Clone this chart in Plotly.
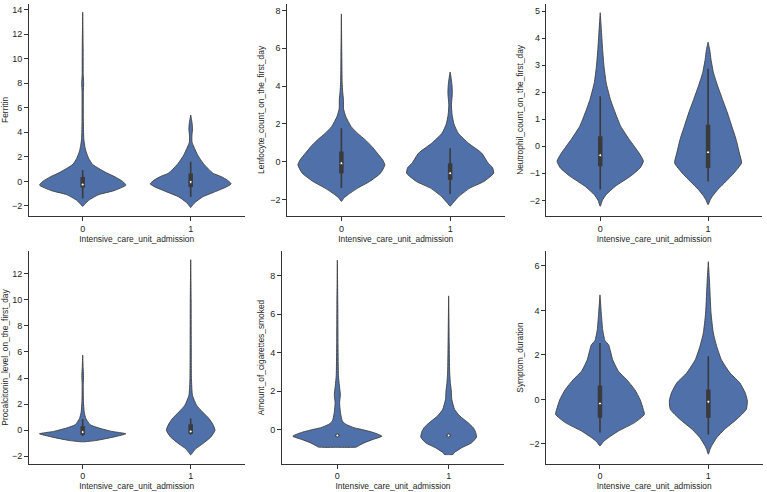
import plotly.graph_objects as go

# ---------------- data ----------------
CATEGORIES = [0, 1]
CATEGORY_LABELS = ["0", "1"]
X_TITLE = "Intensive_care_unit_admission"
Y_TITLES = [
    "Ferritin",
    "Lenfocyte_count_on_the_first_day",
    "Neutrophil_count_on_the_first_day",
    "Procalcitonin_level_on_the_first_day",
    "Amount_of_cigarettes_smoked",
    "Symptom_duration",
]

# violin outlines: value levels (Y) and half-widths in category units (W)
FERRITIN_0_Y = [-2.03, -1.85, -1.53, -1.07, -0.75, -0.30, 0.0, 0.37, 0.7, 1.05, 1.4, 1.87, 2.4, 2.83, 3.5, 5.0, 7.3, 8.0, 8.7, 11.0, 13.78]
FERRITIN_0_W = [0, 0.02, 0.056, 0.15, 0.29, 0.40, 0.37, 0.30, 0.22, 0.15, 0.09, 0.056, 0.032, 0.02, 0.01, 0.006, 0.006, 0.009, 0.005, 0.004, 0]
FERRITIN_1_Y = [-2.13, -1.9, -1.67, -1.26, -0.86, -0.45, -0.2, 0.1, 0.4, 0.65, 1.0, 1.46, 2.14, 2.8, 3.2, 3.7, 4.3, 4.8, 5.41]
FERRITIN_1_W = [0, 0.02, 0.046, 0.11, 0.22, 0.33, 0.375, 0.34, 0.28, 0.21, 0.165, 0.117, 0.065, 0.03, 0.012, 0.011, 0.017, 0.012, 0]

LENFO_0_Y = [-2.09, -1.9, -1.74, -1.39, -1.04, -0.6, -0.16, 0.1, 0.46, 0.81, 1.16, 1.5, 1.86, 2.4, 2.8, 3.3, 3.7, 4.2, 5.5, 7.82]
LENFO_0_W = [0, 0.025, 0.06, 0.15, 0.26, 0.36, 0.40, 0.38, 0.33, 0.28, 0.22, 0.15, 0.09, 0.04, 0.02, 0.019, 0.012, 0.007, 0.004, 0]
LENFO_1_Y = [-2.35, -2.18, -1.83, -1.39, -1.04, -0.6, -0.3, -0.07, 0.46, 0.98, 1.51, 2.0, 2.5, 3.0, 3.6, 4.0, 4.4, 4.75]
LENFO_1_W = [0, 0.025, 0.08, 0.18, 0.31, 0.40, 0.39, 0.35, 0.29, 0.17, 0.075, 0.035, 0.018, 0.012, 0.02, 0.018, 0.01, 0]

NEUTRO_0_Y = [-2.22, -2.0, -1.79, -1.48, -1.11, -0.8, -0.55, -0.25, 0.25, 0.74, 1.23, 1.73, 2.35, 2.96, 3.58, 4.2, 4.94]
NEUTRO_0_W = [0, 0.02, 0.055, 0.14, 0.28, 0.37, 0.40, 0.36, 0.27, 0.19, 0.14, 0.095, 0.055, 0.035, 0.022, 0.012, 0]
NEUTRO_1_Y = [-2.16, -1.98, -1.85, -1.6, -1.3, -0.99, -0.62, -0.25, 0.25, 0.74, 1.23, 1.73, 2.22, 2.72, 3.21, 3.58, 3.85]
NEUTRO_1_W = [0, 0.02, 0.04, 0.09, 0.165, 0.24, 0.31, 0.29, 0.26, 0.22, 0.18, 0.134, 0.09, 0.05, 0.027, 0.015, 0]

PROCAL_0_Y = [-0.9, -0.8, -0.66, -0.5, -0.28, -0.1, 0.16, 0.41, 0.88, 1.4, 2.2, 3.5, 4.2, 4.8, 5.76]
PROCAL_0_W = [0, 0.12, 0.21, 0.30, 0.40, 0.27, 0.15, 0.07, 0.03, 0.014, 0.007, 0.005, 0.008, 0.004, 0]
PROCAL_1_Y = [-1.9, -1.7, -1.43, -1.05, -0.54, -0.02, 0.37, 0.88, 1.39, 1.9, 2.68, 3.96, 7.0, 10.0, 13.08]
PROCAL_1_W = [0, 0.02, 0.046, 0.11, 0.185, 0.225, 0.21, 0.17, 0.11, 0.055, 0.016, 0.007, 0.005, 0.004, 0]

CIGS_0_Y = [-0.93, -0.92, -0.85, -0.7, -0.52, -0.35, -0.17, 0.0, 0.09, 0.26, 0.43, 0.87, 1.39, 1.8, 2.3, 2.8, 4.35, 6.5, 8.83]
CIGS_0_W = [0, 0.17, 0.19, 0.24, 0.32, 0.40, 0.33, 0.22, 0.15, 0.08, 0.045, 0.028, 0.02, 0.027, 0.018, 0.01, 0.006, 0.004, 0]
CIGS_1_Y = [-1.31, -1.3, -1.2, -1.13, -0.96, -0.7, -0.4, -0.1, 0.1, 0.35, 0.7, 1.04, 1.57, 2.0, 2.4, 3.0, 4.5, 6.96]
CIGS_1_W = [0, 0.04, 0.05, 0.07, 0.115, 0.205, 0.25, 0.24, 0.22, 0.175, 0.1, 0.054, 0.028, 0.024, 0.016, 0.009, 0.005, 0]

SYMPT_0_Y = [-2.09, -1.9, -1.72, -1.42, -1.04, -0.67, -0.45, 0.0, 0.45, 0.9, 1.27, 1.79, 2.2, 2.45, 2.65, 3.13, 3.88, 4.7]
SYMPT_0_W = [0, 0.03, 0.077, 0.17, 0.32, 0.41, 0.40, 0.37, 0.32, 0.245, 0.17, 0.117, 0.095, 0.08, 0.046, 0.025, 0.012, 0]
SYMPT_1_Y = [-2.46, -2.25, -2.09, -1.72, -1.34, -0.9, -0.45, -0.07, 0.3, 0.75, 1.19, 1.79, 2.39, 2.99, 3.88, 5.37, 6.19]
SYMPT_1_W = [0, 0.015, 0.03, 0.077, 0.15, 0.26, 0.35, 0.36, 0.34, 0.29, 0.2, 0.12, 0.077, 0.046, 0.025, 0.01, 0]

# inner box statistics: [whisker low, q1, median, q3, whisker high]
FERRITIN_STATS = [[-1.4, -0.5, -0.25, 0.37, 0.92], [-1.26, -0.45, -0.04, 0.65, 1.6]]
LENFO_STATS = [[-1.39, -0.6, -0.07, 0.54, 1.77], [-1.7, -0.95, -0.6, -0.07, 0.72]]
NEUTRO_STATS = [[-1.6, -0.74, -0.33, 0.37, 1.85], [-1.3, -0.8, -0.22, 0.8, 2.87]]
PROCAL_STATS = [[-0.45, -0.36, -0.15, 0.3, 0.85], [-0.35, -0.28, -0.1, 0.45, 0.9]]
CIGS_STATS = [[-0.33, -0.35, -0.31, -0.27, -0.29], [-0.33, -0.35, -0.31, -0.27, -0.29]]
SYMPT_STATS = [[-1.49, -0.82, -0.18, 0.63, 2.54], [-1.57, -0.82, -0.1, 0.45, 1.94]]

PANELS = [
    ([(FERRITIN_0_Y, FERRITIN_0_W), (FERRITIN_1_Y, FERRITIN_1_W)], FERRITIN_STATS),
    ([(LENFO_0_Y, LENFO_0_W), (LENFO_1_Y, LENFO_1_W)], LENFO_STATS),
    ([(NEUTRO_0_Y, NEUTRO_0_W), (NEUTRO_1_Y, NEUTRO_1_W)], NEUTRO_STATS),
    ([(PROCAL_0_Y, PROCAL_0_W), (PROCAL_1_Y, PROCAL_1_W)], PROCAL_STATS),
    ([(CIGS_0_Y, CIGS_0_W), (CIGS_1_Y, CIGS_1_W)], CIGS_STATS),
    ([(SYMPT_0_Y, SYMPT_0_W), (SYMPT_1_Y, SYMPT_1_W)], SYMPT_STATS),
]

# ---------------- layout (pixels in a 767x492 canvas) ----------------
W_PX, H_PX = 767, 492
# (left, right, top, bottom) pixel boxes of each axes
BOXES = [
    (28.7, 244.7, 3.5, 216.3),
    (287.0, 504.5, 3.5, 216.3),
    (546.3, 762.0, 3.5, 216.3),
    (28.7, 244.7, 251.0, 464.0),
    (281.7, 504.3, 251.0, 464.0),
    (545.8, 762.5, 251.0, 464.0),
]
Y_RANGES = [[-2.84, 14.49], [-2.88, 8.37], [-2.59, 5.28], [-2.6, 13.75], [-1.8, 9.3], [-2.9, 6.67]]
Y_DTICKS = [2, 2, 1, 2, 2, 2]

FILL = "#4f70a9"
EDGE = "#3f3f3f"
INNER = "#3a3a3a"
TEXT = "#262626"
FONT = "Liberation Sans, Arial, sans-serif"

fig = go.Figure()

for i, (violins, stats) in enumerate(PANELS):
    ax = "" if i == 0 else str(i + 1)
    xref, yref = "x" + ax, "y" + ax
    for c, (ys, ws), st in zip(CATEGORIES, violins, stats):
        px = [c + w for w in ws] + [c - w for w in reversed(ws)]
        py = list(ys) + list(reversed(ys))
        fig.add_trace(go.Scatter(
            x=px, y=py, xaxis=xref, yaxis=yref, mode="lines",
            fill="toself", fillcolor=FILL,
            line=dict(color=EDGE, width=0.9, shape="spline", smoothing=0.5),
            hoverinfo="skip", showlegend=False))
        lo, q1, med, q3, hi = st
        fig.add_trace(go.Scatter(
            x=[c, c], y=[lo, hi], xaxis=xref, yaxis=yref, mode="lines",
            line=dict(color=INNER, width=1.6), hoverinfo="skip", showlegend=False))
        fig.add_trace(go.Scatter(
            x=[c, c], y=[q1, q3], xaxis=xref, yaxis=yref, mode="lines",
            line=dict(color=INNER, width=4.5), hoverinfo="skip", showlegend=False))
        fig.add_trace(go.Scatter(
            x=[c], y=[med], xaxis=xref, yaxis=yref, mode="markers",
            marker=dict(color="white", size=3, line=dict(color=INNER, width=1)),
            hoverinfo="skip", showlegend=False))

layout = dict(
    width=W_PX, height=H_PX,
    margin=dict(l=0, r=0, t=0, b=0),
    paper_bgcolor="white", plot_bgcolor="white",
    font=dict(family=FONT, size=8.5, color=TEXT),
    showlegend=False,
)
for i, (l, r, t, b) in enumerate(BOXES):
    ax = "" if i == 0 else str(i + 1)
    common = dict(
        showline=True, linecolor="#333333", linewidth=1.2,
        ticks="outside", ticklen=3.5, tickwidth=1, tickcolor="#333333",
        showgrid=False, zeroline=False, automargin=False,
        tickfont=dict(family=FONT, size=9, color=TEXT),
    )
    layout["xaxis" + ax] = dict(
        common,
        domain=[l / W_PX, r / W_PX], anchor="y" + ax,
        range=[-0.5, 1.5], tickmode="array", tickvals=CATEGORIES, ticktext=CATEGORY_LABELS,
        title=dict(text=X_TITLE, font=dict(family=FONT, size=8.4, color=TEXT), standoff=0),
    )
    layout["yaxis" + ax] = dict(
        common,
        domain=[1 - b / H_PX, 1 - t / H_PX], anchor="x" + ax,
        range=Y_RANGES[i], dtick=Y_DTICKS[i], tick0=0,
        title=dict(text=Y_TITLES[i], font=dict(family=FONT, size=8.4, color=TEXT), standoff=4),
    )

fig.update_layout(**layout)
fig.write_html("out.html")
